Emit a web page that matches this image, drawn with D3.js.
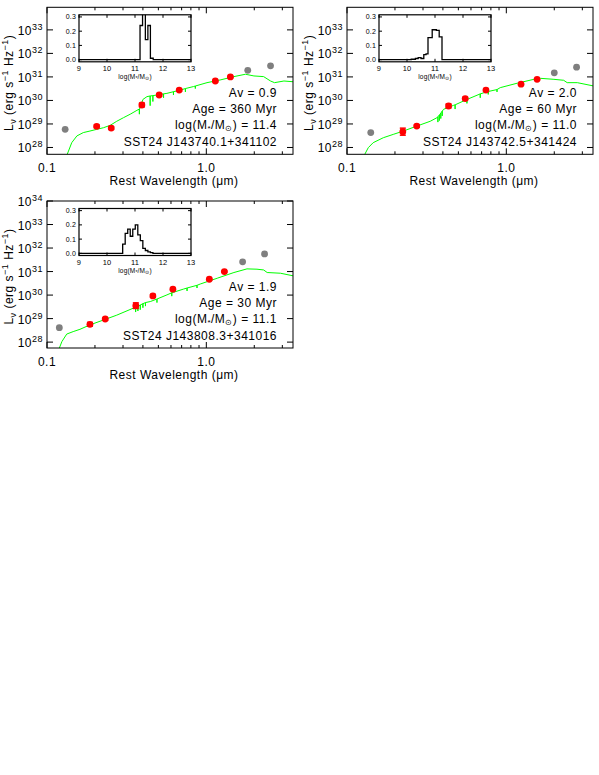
<!DOCTYPE html>
<html><head><meta charset="utf-8">
<script src="https://cdn.jsdelivr.net/npm/d3@7"></script>
<style>body{margin:0;background:#fff}text{font-family:"Liberation Sans",Arial,Helvetica,sans-serif;fill:#000}</style>
</head><body>
<svg id="c" width="599" height="775"></svg>
<script>
// ---------------- DATA ----------------
const xTickValues = [0.1, 1.0];
const xTickLabels = ["0.1", "1.0"];
const yTickExponents = [28, 29, 30, 31, 32, 33, 34];
const insetXTicks = [9, 10, 11, 12, 13];
const insetYTicks = [0.0, 0.1, 0.2, 0.3];

// Panel 1
const redLam1 = [0.205, 0.253, 0.394, 0.506, 0.676, 1.139, 1.416];
const redL1   = [7.9e28, 6.7e28, 6.4e29, 1.7e30, 2.75e30, 6.7e30, 1.0e31];
const redErr1 = [0.06, 0.06, 0.08, 0.05, 0.04, 0.03, 0.03];
const grayLam1 = [0.130, 1.82, 2.53];
const grayL1   = [5.9e28, 1.9e31, 2.95e31];
const modelLam1 = [0.133,0.143,0.154,0.169,0.186,0.205,0.226,0.249,0.249,0.249,0.274,0.302,0.333,0.367,0.380,0.380,0.380,0.385,0.400,0.424,0.444,0.444,0.444,0.462,0.462,0.462,0.490,0.539,0.539,0.539,0.566,0.622,0.622,0.622,0.686,0.739,0.739,0.739,0.832,0.853,0.853,0.853,1.01,1.22,1.49,1.76,1.99,2.29,2.53,2.68,3.07,3.54];
const modelL1   = [4.5e27,1.6e28,3.1e28,4.3e28,5.0e28,5.9e28,6.9e28,8.7e28,6.5e28,8.7e28,1.3e29,1.85e29,2.6e29,3.8e29,4.3e29,2.6e29,4.3e29,4.9e29,1.1e30,1.45e30,1.55e30,6.0e29,1.55e30,1.6e30,9e29,1.6e30,1.7e30,1.9e30,1.3e30,1.9e30,2.0e30,2.35e30,1.7e30,2.35e30,2.75e30,3.2e30,2.3e30,3.2e30,3.9e30,4.1e30,3.2e30,4.1e30,5.7e30,7.4e30,1.03e31,1.3e31,1.1e31,1.03e31,6.7e30,5.7e30,6.7e30,6.2e30];
const histEdges1 = [11.18, 11.27, 11.37, 11.46, 11.55, 11.65];
const histFrac1  = [0.24, 0.34, 0.14, 0.24, 0.01];
const labels1 = ["Av = 0.9", "Age = 360 Myr", "11.4", "SST24 J143740.1+341102"];

// Panel 2
const redLam2 = [0.224, 0.274, 0.434, 0.552, 0.745, 1.237, 1.56];
const redL2   = [4.7e28, 8.1e28, 5.8e29, 1.2e30, 2.75e30, 4.9e30, 7.9e30];
const redErr2 = [0.15, 0.05, 0.08, 0.05, 0.04, 0.03, 0.03];
const grayLam2 = [0.141, 2.0, 2.76];
const grayL2   = [4.3e28, 1.5e31, 2.6e31];
const modelLam2 = [0.128,0.136,0.146,0.169,0.195,0.226,0.274,0.333,0.367,0.372,0.372,0.372,0.380,0.380,0.380,0.388,0.388,0.388,0.396,0.396,0.396,0.404,0.467,0.477,0.477,0.477,0.566,0.566,0.566,0.686,0.686,0.686,0.720,0.77,0.77,0.77,0.874,0.874,0.874,0.916,1.17,1.49,1.64,1.99,2.29,2.41,2.79,3.54];
const modelL2   = [4.5e27,9.8e27,1.6e28,2.6e28,3.6e28,5.0e28,8.1e28,1.3e29,1.85e29,2.0e29,1.2e29,2.0e29,2.4e29,1.4e29,2.4e29,2.9e29,1.7e29,2.9e29,3.5e29,2.2e29,3.5e29,4.2e29,6.2e29,6.5e29,4.3e29,6.5e29,1.1e30,7.5e29,1.1e30,1.9e30,1.3e30,1.9e30,2.1e30,2.4e30,1.8e30,2.4e30,2.9e30,2.3e30,2.9e30,3.5e30,5.4e30,7.9e30,8.7e30,7.9e30,7.2e30,5.7e30,5.7e30,4.1e30];
const histEdges2 = [10.15, 10.3, 10.4, 10.5, 10.6, 10.68, 10.75, 10.9, 11.05, 11.15, 11.25];
const histFrac2  = [0.003, 0.008, 0.015, 0.008, 0.035, 0.04, 0.155, 0.21, 0.205, 0.16];
const labels2 = ["Av = 2.0", "Age = 60 Myr", "11.0", "SST24 J143742.5+341424"];

// Panel 3
const redLam3 = [0.186, 0.232, 0.361, 0.462, 0.617, 1.044, 1.298];
const redL3   = [5.7e28, 9.6e28, 3.55e29, 9.2e29, 1.78e30, 4.7e30, 1.0e31];
const redErr3 = [0.08, 0.05, 0.12, 0.06, 0.04, 0.03, 0.03];
const grayLam3 = [0.1195, 1.69, 2.32];
const grayL3   = [4.1e28, 2.6e31, 5.6e31];
const modelLam3 = [0.118,0.124,0.133,0.146,0.161,0.186,0.226,0.274,0.349,0.360,0.360,0.360,0.372,0.372,0.372,0.385,0.385,0.385,0.40,0.40,0.40,0.415,0.415,0.415,0.445,0.49,0.49,0.49,0.566,0.607,0.607,0.607,0.720,0.757,0.757,0.757,0.874,0.874,0.874,0.916,1.17,1.49,1.80,2.08,2.29,2.41,2.92,3.54];
const modelL3   = [4.5e27,1.05e28,2.2e28,2.8e28,3.5e28,5.4e28,8.7e28,1.4e29,2.8e29,3.0e29,1.9e29,3.0e29,3.3e29,2.1e29,3.3e29,3.8e29,2.4e29,3.8e29,4.3e29,2.9e29,4.3e29,4.8e29,3.4e29,4.8e29,5.3e29,6.8e29,4.8e29,6.8e29,1.02e30,1.25e30,9e29,1.25e30,1.8e30,2.0e30,1.5e30,2.0e30,2.6e30,2.0e30,2.6e30,2.95e30,5.2e30,9.1e30,1.3e31,1.26e31,1.17e31,9.1e30,8.5e30,6.5e30];
const histEdges3 = [10.56, 10.65, 10.74, 10.83, 10.92, 11.01, 11.10, 11.19, 11.28, 11.37, 11.46, 11.55, 11.64];
const histFrac3  = [0.065, 0.14, 0.17, 0.12, 0.17, 0.2, 0.13, 0.09, 0.035, 0.02, 0.01, 0.005];
const labels3 = ["Av = 1.9", "Age = 30 Myr", "11.1", "SST24 J143808.3+341016"];

// ---------------- DRAWING ----------------
const svg = d3.select("#c");
const W = 246, H = 147;
const FS = 12, LS = 0.5;

const panels = [
  {x: 47,  y: 7.3, top: 33.96, redLam: redLam1, redL: redL1, redErr: redErr1, grayLam: grayLam1, grayL: grayL1, mLam: modelLam1, mL: modelL1, hE: histEdges1, hF: histFrac1, labels: labels1},
  {x: 347, y: 7.3, top: 33.96, redLam: redLam2, redL: redL2, redErr: redErr2, grayLam: grayLam2, grayL: grayL2, mLam: modelLam2, mL: modelL2, hE: histEdges2, hF: histFrac2, labels: labels2},
  {x: 47,  y: 201, top: 34.0, redLam: redLam3, redL: redL3, redErr: redErr3, grayLam: grayLam3, grayL: grayL3, mLam: modelLam3, mL: modelL3, hE: histEdges3, hF: histFrac3, labels: labels3}
];

function txt(g, x, y, anchor, size) {
  return g.append("text").attr("x", x).attr("y", y).attr("text-anchor", anchor)
    .attr("font-size", size).attr("letter-spacing", size >= 10 ? LS : 0.2);
}

panels.forEach((p, pi) => {
  const g = svg.append("g").attr("transform", `translate(${p.x},${p.y})`);
  const xs = d3.scaleLog().domain([0.1, 3.5]).range([0, W]);
  const ys = d3.scaleLog().domain([Math.pow(10, p.top - 6.25), Math.pow(10, p.top)]).range([H, 0]);

  const clipId = "clip" + pi;
  g.append("clipPath").attr("id", clipId).append("rect").attr("width", W).attr("height", H);

  // model curve
  const mdata = p.mLam.map((l, i) => [l, p.mL[i]]);
  g.append("path").attr("clip-path", `url(#${clipId})`)
    .attr("d", d3.line().x(d => xs(d[0])).y(d => ys(d[1]))(mdata))
    .attr("fill", "none").attr("stroke", "#00ff00").attr("stroke-width", 1);

  // gray points
  g.selectAll(".gp").data(p.grayLam).enter().append("circle")
    .attr("cx", d => xs(d)).attr("cy", (d, i) => ys(p.grayL[i])).attr("r", 3.4).attr("fill", "#7f7f7f");

  // red error bars
  p.redLam.forEach((l, i) => {
    const y0 = ys(p.redL[i] * Math.pow(10, -p.redErr[i])), y1 = ys(p.redL[i] * Math.pow(10, p.redErr[i]));
    const cx = xs(l);
    g.append("line").attr("x1", cx).attr("x2", cx).attr("y1", y0).attr("y2", y1).attr("stroke", "#ff0000").attr("stroke-width", 1.5);
    g.append("line").attr("x1", cx - 3).attr("x2", cx + 3).attr("y1", y0).attr("y2", y0).attr("stroke", "#ff0000").attr("stroke-width", 1.5);
    g.append("line").attr("x1", cx - 3).attr("x2", cx + 3).attr("y1", y1).attr("y2", y1).attr("stroke", "#ff0000").attr("stroke-width", 1.5);
  });
  g.selectAll(".rp").data(p.redLam).enter().append("circle")
    .attr("cx", d => xs(d)).attr("cy", (d, i) => ys(p.redL[i])).attr("r", 3.4).attr("fill", "#ff0000");

  // frame
  g.append("rect").attr("width", W).attr("height", H).attr("fill", "none").attr("stroke", "#000").attr("stroke-width", 1);

  // x ticks (major & minor) bottom and top, inward
  const minor = [];
  for (let dec of [0.1, 1]) for (let k = 1; k <= 9; k++) { const v = dec * k; if (v >= 0.1 && v <= 3.5) minor.push(v); }
  minor.forEach(v => {
    const major = xTickValues.includes(+v.toFixed(3));
    const len = major ? 6 : 3;
    const x = xs(v);
    g.append("line").attr("x1", x).attr("x2", x).attr("y1", H).attr("y2", H - len).attr("stroke", "#000");
    g.append("line").attr("x1", x).attr("x2", x).attr("y1", 0).attr("y2", len).attr("stroke", "#000");
  });
  xTickValues.forEach((v, i) => {
    txt(g, xs(v), H + 18, "middle", FS).text(xTickLabels[i]);
  });
  txt(g, W / 2 + 4, H + 31, "middle", FS).text("Rest Wavelength (\u03bcm)");

  // y ticks
  yTickExponents.forEach(e => {
    const y = ys(Math.pow(10, e));
    if (y < -0.5 || y > H + 0.5) return;
    g.append("line").attr("x1", 0).attr("x2", 6).attr("y1", y).attr("y2", y).attr("stroke", "#000");
    g.append("line").attr("x1", W).attr("x2", W - 6).attr("y1", y).attr("y2", y).attr("stroke", "#000");
    const t = txt(g, -4, y + 5, "end", FS);
    t.append("tspan").text("10");
    t.append("tspan").attr("font-size", 9).attr("dy", -5).text(String(e));
  });

  // y title
  const yt = g.append("text").attr("transform", `translate(-34,${H / 2 + 2}) rotate(-90)`).attr("text-anchor", "middle")
    .attr("font-size", FS).attr("letter-spacing", LS);
  yt.append("tspan").text("L");
  yt.append("tspan").attr("font-size", 9).attr("dy", 3).text("\u03bd");
  yt.append("tspan").attr("dy", -3).text(" (erg s");
  yt.append("tspan").attr("font-size", 9).attr("dy", -5).text("\u22121");
  yt.append("tspan").attr("dy", 5).text(" Hz");
  yt.append("tspan").attr("font-size", 9).attr("dy", -5).text("\u22121");
  yt.append("tspan").attr("dy", 5).text(")");

  // labels
  const rx = W - 16;
  txt(g, rx, 90, "end", FS).text(p.labels[0]);
  txt(g, rx, 106, "end", FS).text(p.labels[1]);
  const lm = txt(g, rx, 122, "end", FS);
  lm.append("tspan").text("log(M");
  lm.append("tspan").attr("font-size", 8).attr("dy", 2).text("*");
  lm.append("tspan").attr("dy", -2).text("/M");
  lm.append("tspan").attr("font-size", 8).attr("dy", 2).text("\u2299");
  lm.append("tspan").attr("dy", -2).text(") = " + p.labels[2]);
  txt(g, rx, 139, "end", FS).text(p.labels[3]);

  // inset
  const ig = g.append("g").attr("transform", "translate(32,7.5)");
  const iw = 112, ih = 47;
  const ix = d3.scaleLinear().domain([9, 13]).range([0, iw]);
  const iy = d3.scaleLinear().domain([-0.015, 0.315]).range([ih, 0]);
  const iclip = "iclip" + pi;
  ig.append("clipPath").attr("id", iclip).append("rect").attr("width", iw).attr("height", ih);
  ig.append("rect").attr("width", iw).attr("height", ih).attr("fill", "#fff");
  const hp = [[9, 0], [p.hE[0], 0]];
  p.hF.forEach((f, i) => { hp.push([p.hE[i], f]); hp.push([p.hE[i + 1], f]); });
  hp.push([p.hE[p.hE.length - 1], 0]); hp.push([13, 0]);
  ig.append("path").attr("clip-path", `url(#${iclip})`)
    .attr("d", d3.line().x(d => ix(d[0])).y(d => iy(d[1]))(hp))
    .attr("fill", "none").attr("stroke", "#000").attr("stroke-width", 1.3);
  ig.append("rect").attr("width", iw).attr("height", ih).attr("fill", "none").attr("stroke", "#000").attr("stroke-width", 1.2);
  insetXTicks.forEach(v => {
    ig.append("line").attr("x1", ix(v)).attr("x2", ix(v)).attr("y1", ih).attr("y2", ih - 3).attr("stroke", "#000");
    ig.append("line").attr("x1", ix(v)).attr("x2", ix(v)).attr("y1", 0).attr("y2", 3).attr("stroke", "#000");
    txt(ig, ix(v), ih + 9, "middle", 7.5).text(String(v));
  });
  insetYTicks.forEach(v => {
    ig.append("line").attr("x1", 0).attr("x2", 3).attr("y1", iy(v)).attr("y2", iy(v)).attr("stroke", "#000");
    ig.append("line").attr("x1", iw).attr("x2", iw - 3).attr("y1", iy(v)).attr("y2", iy(v)).attr("stroke", "#000");
    txt(ig, -3, iy(v) + 2.5, "end", 7).text(v.toFixed(1));
  });
  const il = txt(ig, iw / 2, ih + 17, "middle", 6.5);
  il.append("tspan").text("log(M");
  il.append("tspan").attr("font-size", 5).attr("dy", 1.5).text("*");
  il.append("tspan").attr("dy", -1.5).text("/M");
  il.append("tspan").attr("font-size", 5).attr("dy", 1.5).text("\u2299");
  il.append("tspan").attr("dy", -1.5).text(")");
});
</script>
</body></html>
